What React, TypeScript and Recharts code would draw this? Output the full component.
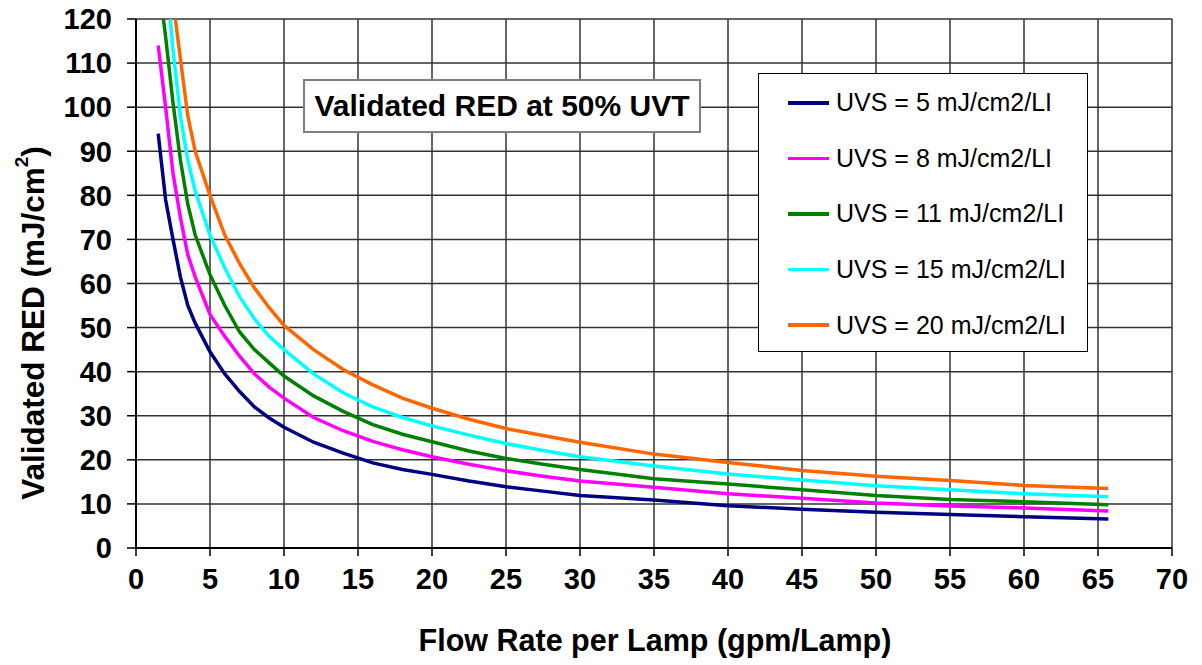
import React from 'react';
import { LineChart, Line, XAxis, YAxis, CartesianGrid, Legend, Label } from 'recharts';

const FONT = '"Liberation Sans", Arial, Helvetica, sans-serif';

const xTicks = [0, 5, 10, 15, 20, 25, 30, 35, 40, 45, 50, 55, 60, 65, 70];
const yTicks = [0, 10, 20, 30, 40, 50, 60, 70, 80, 90, 100, 110, 120];

const tailFlow = [4, 5, 6, 7, 8, 9, 10, 12, 14, 16, 18, 20, 22.5, 25, 27.5, 30, 35, 40, 45, 50, 55, 60, 65.7];

const flow5 = [1.5, 2, 2.5, 3, 3.5, ...tailFlow];
const red5 = [94, 79, 70, 61.5, 55, 51, 44.5, 39.5, 35.5, 32, 29.5, 27.4, 24, 21.5, 19.3, 17.8, 16.7, 15.2, 13.9, 12.9, 11.9, 10.9, 9.6, 8.8, 8.1, 7.6, 7.1, 6.6];

const flow8 = [1.5, 2, 2.5, 3, 3.5, ...tailFlow];
const red8 = [114, 100, 85, 75, 66.5, 61.5, 53, 48, 43.5, 39.5, 36.5, 34, 29.6, 26.6, 24.2, 22.3, 20.7, 19, 17.5, 16.3, 15.2, 13.8, 12.3, 11.3, 10.2, 9.5, 9.1, 8.4];

const flow11 = [1.85, 2, 2.5, 3, 3.5, ...tailFlow];
const red11 = [120, 116, 101, 88, 78, 71, 62, 55, 49, 45, 42, 39, 34.5, 31, 28, 25.8, 24.1, 22, 20.3, 19, 17.8, 15.7, 14.5, 13.2, 11.9, 11.0, 10.5, 9.8];

const flow15 = [2.32, 2.5, 3, 3.5, ...tailFlow];
const red15 = [120, 113, 98, 88, 81, 71, 63.5, 57, 52, 48, 45, 39.5, 35.2, 32, 29.6, 27.7, 25.6, 23.7, 22.1, 20.7, 18.6, 16.8, 15.4, 14.1, 13.2, 12.3, 11.6];

const flow20 = [2.66, 3, 3.5, ...tailFlow];
const red20 = [120, 111, 98, 90, 80, 71, 64.5, 59, 54.5, 50.5, 45, 40.5, 37, 34, 31.7, 29.2, 27.1, 25.5, 24, 21.3, 19.4, 17.6, 16.3, 15.3, 14.2, 13.5];

const seriesNames = [
  'UVS = 5 mJ/cm2/LI',
  'UVS = 8 mJ/cm2/LI',
  'UVS = 11 mJ/cm2/LI',
  'UVS = 15 mJ/cm2/LI',
  'UVS = 20 mJ/cm2/LI',
];
const seriesColors = ['#000080', '#FF00FF', '#008000', '#00FFFF', '#FF6600'];

const toPoints = (xs: number[], ys: number[]) => xs.map((x, i) => ({ x, y: ys[i] }));

const series = [
  toPoints(flow5, red5),
  toPoints(flow8, red8),
  toPoints(flow11, red11),
  toPoints(flow15, red15),
  toPoints(flow20, red20),
];

const LegendBox = () => (
  <div
    style={{
      width: 330,
      height: 279,
      boxSizing: 'border-box',
      border: '1.5px solid #000',
      background: '#fff',
      paddingTop: 1,
      fontFamily: FONT,
    }}
  >
    {seriesNames.map((name, i) => (
      <div key={name} style={{ display: 'flex', alignItems: 'center', height: 55.6 }}>
        <div style={{ marginLeft: 29, width: 41, height: 3.5, background: seriesColors[i] }} />
        <span style={{ marginLeft: 7, fontSize: 25, color: '#000', whiteSpace: 'nowrap' }}>{name}</span>
      </div>
    ))}
  </div>
);

export default function App() {
  return (
    <div style={{ position: 'absolute', left: 0, top: 0, width: 1202, height: 665, background: '#fff' }}>
      <LineChart
        width={1202}
        height={665}
        margin={{ top: 19, right: 30, bottom: 57, left: 0 }}
        style={{ fontFamily: FONT }}
      >
        <CartesianGrid stroke="#333" strokeWidth={1.5} />
        <XAxis
          type="number"
          dataKey="x"
          domain={[0, 70]}
          ticks={xTicks}
          allowDataOverflow
          height={60}
          axisLine={{ stroke: '#000', strokeWidth: 2 }}
          tickLine={{ stroke: '#000', strokeWidth: 1.5 }}
          tickSize={8}
          tickMargin={12}
          tick={{ fill: '#000', fontSize: 29, fontWeight: 'bold', fontFamily: FONT }}
        >
          <Label
            content={() => (
              <text x={655} y={651} textAnchor="middle" fill="#000" fontSize={30.5} fontWeight="bold" fontFamily={FONT}>
                Flow Rate per Lamp (gpm/Lamp)
              </text>
            )}
          />
        </XAxis>
        <YAxis
          type="number"
          domain={[0, 120]}
          ticks={yTicks}
          allowDataOverflow
          width={136}
          axisLine={{ stroke: '#000', strokeWidth: 2 }}
          tickLine={{ stroke: '#000', strokeWidth: 1.5 }}
          tickSize={9}
          tickMargin={15}
          tick={{ fill: '#000', fontSize: 29, fontWeight: 'bold', fontFamily: FONT }}
        >
          <Label
            content={() => (
              <text
                x={33}
                y={323}
                transform="rotate(-90, 33, 323)"
                textAnchor="middle"
                dominantBaseline="central"
                fill="#000"
                fontSize={31.5}
                fontWeight="bold"
                fontFamily={FONT}
              >
                Validated RED (mJ/cm
                <tspan dy={-12} fontSize={19}>2</tspan>
                <tspan dy={12}>)</tspan>
              </text>
            )}
          />
        </YAxis>
        {series.map((d, i) => (
          <Line
            key={seriesNames[i]}
            data={d}
            dataKey="y"
            name={seriesNames[i]}
            type="linear"
            stroke={seriesColors[i]}
            strokeWidth={3.5}
            dot={false}
            activeDot={false}
            isAnimationActive={false}
          />
        ))}
        <Legend
          layout="vertical"
          align="center"
          verticalAlign="middle"
          wrapperStyle={{ position: 'absolute', left: 758, top: 73, width: 330, height: 279 }}
          content={LegendBox}
        />
      </LineChart>
      <div
        style={{
          position: 'absolute',
          left: 303,
          top: 79,
          width: 398,
          height: 54,
          boxSizing: 'border-box',
          border: '2px solid #808080',
          background: '#fff',
          display: 'flex',
          alignItems: 'center',
          justifyContent: 'center',
          fontFamily: FONT,
          fontWeight: 'bold',
          fontSize: 30,
          color: '#000',
          whiteSpace: 'nowrap',
        }}
      >
        Validated RED at 50% UVT
      </div>
    </div>
  );
}
